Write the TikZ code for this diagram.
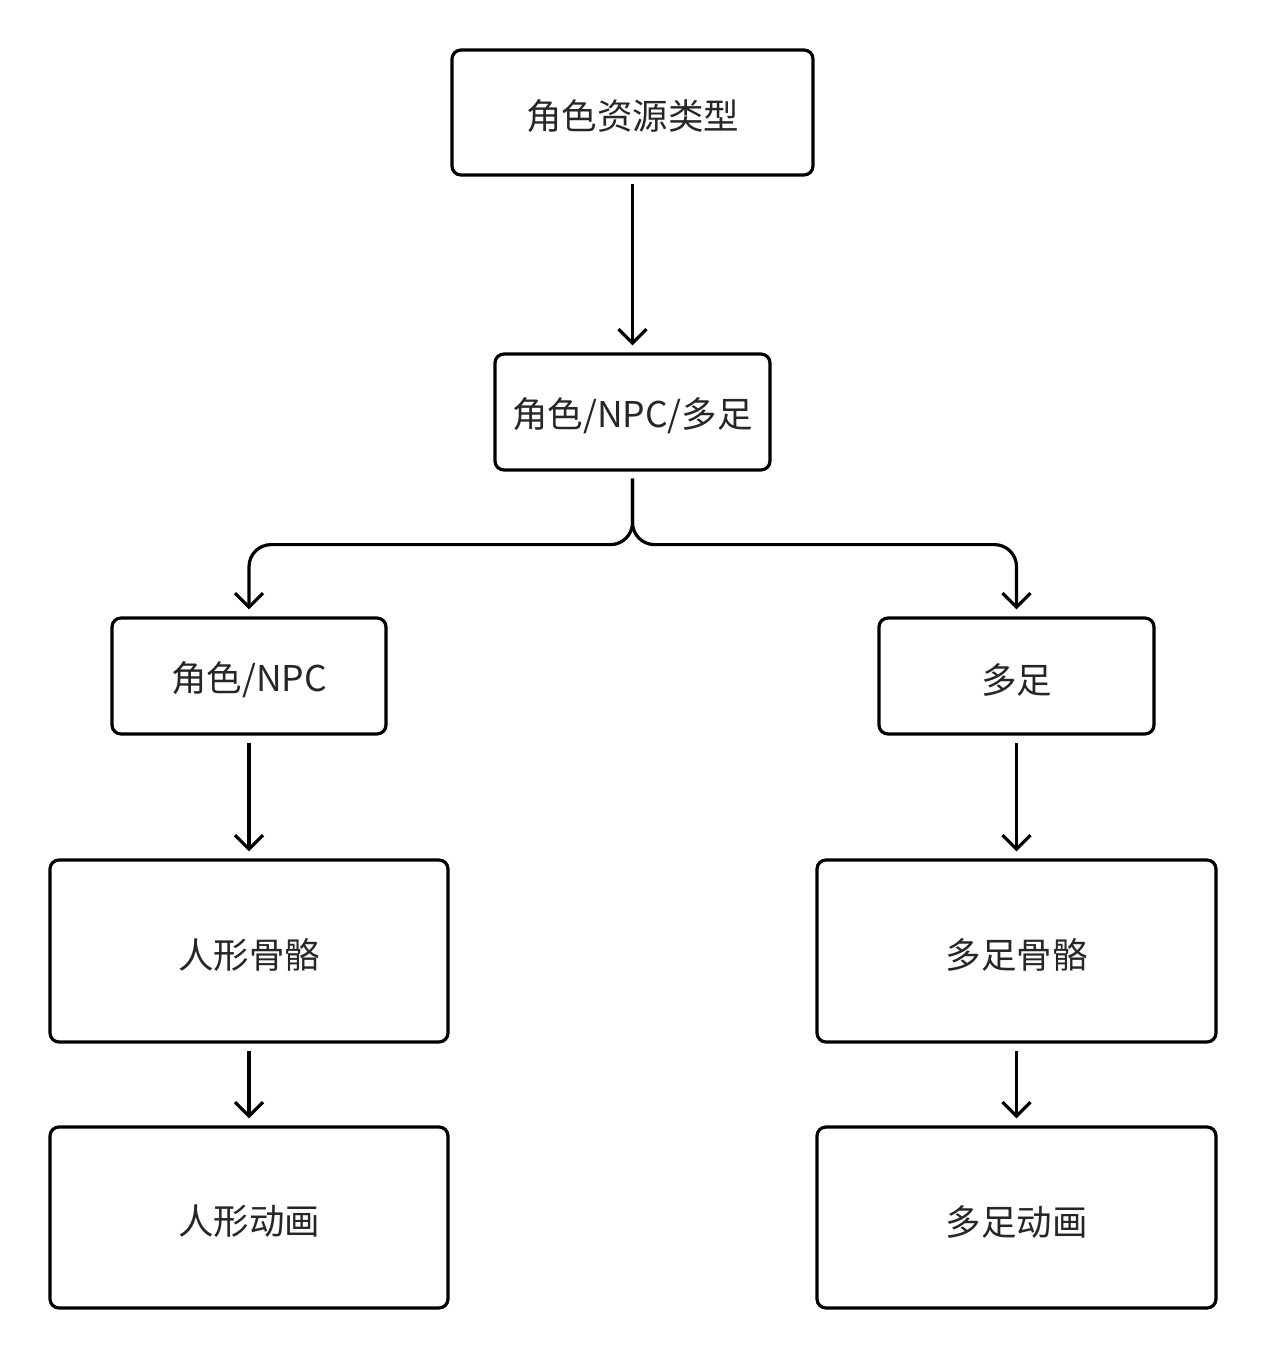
\documentclass[tikz,border=0pt]{standalone}
\usepackage{fontspec}
\setmainfont{Noto Sans CJK SC}
\usetikzlibrary{arrows.meta}
\begin{document}
\begin{tikzpicture}[x=1pt,y=-1pt,
  box/.style={draw=black,line width=3.2pt,rounded corners=9pt,fill=white,inner sep=0pt,
    font=\fontsize{35.5}{40}\selectfont,text=black!85},
  arr/.style={draw=black,line width=3.2pt,-{Straight Barb[length=14pt,width=28pt,line width=3.2pt]},
    shorten <=7pt,shorten >=7pt}]
\useasboundingbox[fill=white] (0,0) rectangle (1266,1360);
\newcommand\lowr[1]{\raisebox{-4pt}[\height][\depth]{#1}}
\node[box,minimum width=361pt,minimum height=125pt] (top) at (632.5,112.5) {\lowr{角色资源类型}};
\node[box,minimum width=275pt,minimum height=116pt] (mid) at (632.5,412) {\lowr{角色/NPC/多足}};
\node[box,minimum width=274pt,minimum height=116pt] (l1) at (249,676) {\lowr{角色/NPC}};
\node[box,minimum width=275pt,minimum height=116pt] (r1) at (1016.5,676) {\lowr{多足}};
\node[box,minimum width=398pt,minimum height=182pt] (l2) at (249,951) {\lowr{人形骨骼}};
\node[box,minimum width=399pt,minimum height=182pt] (r2) at (1016.5,951) {\lowr{多足骨骼}};
\node[box,minimum width=398pt,minimum height=181pt] (l3) at (249,1217.5) {\lowr{人形动画}};
\node[box,minimum width=399pt,minimum height=181pt] (r3) at (1016.5,1217.5) {\lowr{多足动画}};
\draw[arr] (top) -- (mid);
\draw[arr,rounded corners=22pt] (mid.south) -- ++(0,73) -| (l1.north);
\draw[arr,rounded corners=22pt] (mid.south) -- ++(0,73) -| (r1.north);
\draw[arr] (l1) -- (l2);
\draw[arr] (r1) -- (r2);
\draw[arr] (l2) -- (l3);
\draw[arr] (r2) -- (r3);
\end{tikzpicture}
\end{document}
